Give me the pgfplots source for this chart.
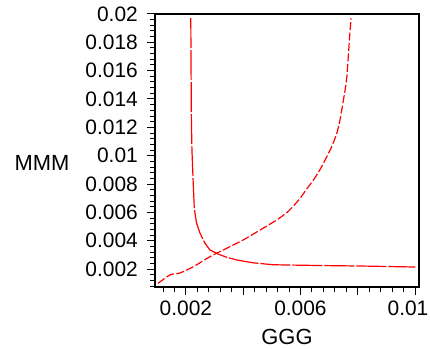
\documentclass[border=0pt]{standalone}
\usepackage{fontspec}
\setmainfont{Liberation Sans}
\usepackage{pgfplots}
\pgfplotsset{compat=1.18}
\begin{document}
\begin{tikzpicture}
\useasboundingbox (0,0) rectangle (430bp,349bp);
\clip (0,0) rectangle (430bp,349bp);
\begin{axis}[
  at={(155bp,62bp)}, anchor=south west,
  scale only axis, width=264bp, height=273bp,
  xmin=0.00092, xmax=0.01014, ymin=0.00073, ymax=0.0200,
  scaled ticks=false,
  axis line style={line width=1.3bp},
  tick style={black, line width=1bp},
  tick align=outside, tick pos=left,
  major tick length=8bp, minor tick length=4.5bp,
  xtick={0.002,0.004,0.006,0.008,0.01},
  xticklabels={0.002,,0.006,,\hspace*{-14bp}0.01},
  minor xtick={0.0012,0.0016,0.0024,0.0028,0.0032,0.0036,0.0044,0.0048,0.0052,0.0056,0.0064,0.0068,0.0072,0.0076,0.0084,0.0088,0.0092,0.0096},
  ytick={0.002,0.004,0.006,0.008,0.01,0.012,0.014,0.016,0.018,0.02},
  yticklabels={0.002,0.004,0.006,0.008,0.01,0.012,0.014,0.016,0.018,0.02},
  minor ytick={0.0008,0.0012,0.0016,0.0024,0.0028,0.0032,0.0036,0.0044,0.0048,0.0052,0.0056,0.0064,0.0068,0.0072,0.0076,0.0084,0.0088,0.0092,0.0096,0.0104,0.0108,0.0112,0.0116,0.0124,0.0128,0.0132,0.0136,0.0144,0.0148,0.0152,0.0156,0.0164,0.0168,0.0172,0.0176,0.0184,0.0188,0.0192,0.0196},
  ticklabel style={font=\fontsize{21}{24}\selectfont, inner sep=0pt},
  yticklabel style={anchor=east, xshift=-9bp},
  xticklabel style={anchor=north, yshift=-6bp},
  xlabel={GGG}, ylabel={MMM},
  every axis x label/.style={at={(axis description cs:0.5,-0.183)}, anchor=center, font=\fontsize{22}{26}\selectfont},
  every axis y label/.style={at={(axis description cs:-0.428,0.455)}, anchor=center, font=\fontsize{22}{26}\selectfont},
]
\addplot[red, line width=1.2bp, dash pattern=on 30bp off 2bp] coordinates {
(0.00217,0.0197) (0.00218,0.0160) (0.00219,0.0127) (0.00221,0.0104)
(0.00225,0.0083) (0.00229,0.0064) (0.00232,0.0059) (0.00237,0.00525)
(0.00249,0.00454) (0.00266,0.00384) (0.00284,0.00334) (0.00312,0.00306)
(0.00342,0.00283) (0.00377,0.00264) (0.00434,0.00244) (0.00504,0.00230)
(0.00622,0.00226) (0.00843,0.00220) (0.01001,0.00214)
};
\addplot[red, line width=1.2bp, dash pattern=on 8bp off 2.5bp, smooth, tension=0.4] coordinates {
(0.00103,0.00099) (0.00144,0.00158) (0.00179,0.00172) (0.00226,0.00216)
(0.00284,0.00287) (0.00342,0.00346) (0.00400,0.00405) (0.00459,0.00475)
(0.00517,0.00546) (0.00558,0.00608) (0.00595,0.00690) (0.00622,0.00765)
(0.00651,0.00845) (0.00674,0.00922) (0.00692,0.00993) (0.00709,0.01063)
(0.00727,0.01158) (0.00738,0.01252) (0.00750,0.01393) (0.00756,0.01464)
(0.00762,0.01558) (0.00767,0.01699) (0.00773,0.01876) (0.00777,0.01970)
};
\end{axis}
\end{tikzpicture}
\end{document}
